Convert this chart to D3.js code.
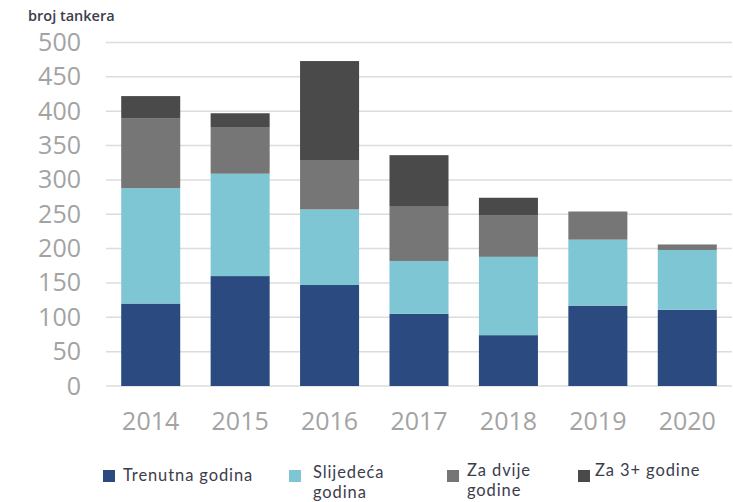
<!DOCTYPE html>
<html>
<head>
<meta charset="utf-8">
<script src="https://cdn.jsdelivr.net/npm/d3@7"></script>
<style>
  body { margin: 0; background: #fff; }
  svg { display: block; }
</style>
</head>
<body>
<div id="chart"></div>
<script>
// data
var years = ["2014", "2015", "2016", "2017", "2018", "2019", "2020"];
var seriesNames = ["Trenutna godina", "Slijedeća godina", "Za dvije godine", "Za 3+ godine"];
var trenutna  = [120, 160, 147, 105, 74, 117, 111];
var slijedeca = [168, 149, 110, 77, 114, 96, 87];
var zaDvije   = [102, 68, 71, 79, 60, 41, 8];
var za3plus   = [32, 20, 145, 75, 26, 0, 0];
var yTicks = [0, 50, 100, 150, 200, 250, 300, 350, 400, 450, 500];

var colors = ["#2a4a80", "#7ec6d4", "#767676", "#4a4a4a"];
var keys = ["t", "s", "d", "z"];

var W = 733, H = 502;
var margin = {top: 42.5, right: 1, bottom: 116, left: 106};
var width = W - margin.left - margin.right;
var height = H - margin.top - margin.bottom;

var rows = years.map(function(y, i) {
  return {year: y, t: trenutna[i], s: slijedeca[i], d: zaDvije[i], z: za3plus[i]};
});

var svg = d3.select("#chart").append("svg")
    .attr("width", W)
    .attr("height", H);

var g = svg.append("g")
    .attr("transform", "translate(" + margin.left + "," + margin.top + ")");

var x = d3.scaleBand()
    .domain(years)
    .range([0, width])
    .paddingInner(0.34)
    .paddingOuter(0.17);

var y = d3.scaleLinear()
    .domain([0, 500])
    .range([height, 0]);

// gridlines
g.selectAll(".grid")
    .data(yTicks)
  .enter().append("line")
    .attr("x1", 0)
    .attr("x2", width)
    .attr("y1", function(d) { return y(d); })
    .attr("y2", function(d) { return y(d); })
    .style("stroke", "#dcdcdc")
    .style("stroke-width", 1.5);

var stack = d3.stack().keys(keys)(rows);

g.selectAll(".layer")
    .data(stack)
  .enter().append("g")
    .attr("fill", function(d, i) { return colors[i]; })
  .selectAll("rect")
    .data(function(d) { return d; })
  .enter().append("rect")
    .attr("x", function(d) { return x(d.data.year); })
    .attr("y", function(d) { return y(d[1]); })
    .attr("width", x.bandwidth())
    .attr("height", function(d) { return y(d[0]) - y(d[1]); });

// y axis
var yAxis = g.append("g")
    .call(d3.axisLeft(y).tickValues(yTicks).tickSize(0).tickPadding(25));
yAxis.select(".domain").remove();
yAxis.selectAll("text")
    .style("font-family", "'Open Sans', sans-serif")
    .style("font-size", "25px")
    .style("fill", "#a3a3a3");

// x axis
var xAxis = g.append("g")
    .attr("transform", "translate(0," + height + ")")
    .call(d3.axisBottom(x).tickSize(0).tickPadding(26));
xAxis.select(".domain").remove();
xAxis.selectAll("text")
    .style("font-family", "'Open Sans', sans-serif")
    .style("font-size", "25px")
    .style("fill", "#a3a3a3");

// axis title
svg.append("text")
    .attr("x", 28)
    .attr("y", 21)
    .text("broj tankera")
    .style("font-family", "'Open Sans', sans-serif")
    .style("font-size", "14.5px")
    .style("font-weight", 600)
    .style("fill", "#3b3d4d");

// legend
var legend = [
  {lines: ["Trenutna godina"], sx: 103, sy: 470, tx: 123, ty: 481},
  {lines: ["Slijedeća", "godina"], sx: 289, sy: 470, tx: 313, ty: 478},
  {lines: ["Za dvije", "godine"], sx: 447, sy: 470, tx: 467, ty: 476},
  {lines: ["Za 3+ godine"], sx: 578, sy: 470, tx: 595, ty: 476}
];

var lg = svg.selectAll(".legend")
    .data(legend)
  .enter().append("g");

lg.append("rect")
    .attr("x", function(d) { return d.sx; })
    .attr("y", function(d) { return d.sy; })
    .attr("width", 12)
    .attr("height", 12)
    .attr("fill", function(d, i) { return colors[i]; });

lg.append("text")
    .attr("x", function(d) { return d.tx; })
    .attr("y", function(d) { return d.ty; })
    .style("font-family", "Lato, sans-serif")
    .style("font-size", "16.5px")
    .style("letter-spacing", "0.9px")
    .style("fill", "#3b3d4d")
  .selectAll("tspan")
    .data(function(d) { return d.lines.map(function(l) { return {l: l, x: d.tx}; }); })
  .enter().append("tspan")
    .attr("x", function(d) { return d.x; })
    .attr("dy", function(d, i) { return i === 0 ? 0 : 20; })
    .text(function(d) { return d.l; });
</script>
</body>
</html>
